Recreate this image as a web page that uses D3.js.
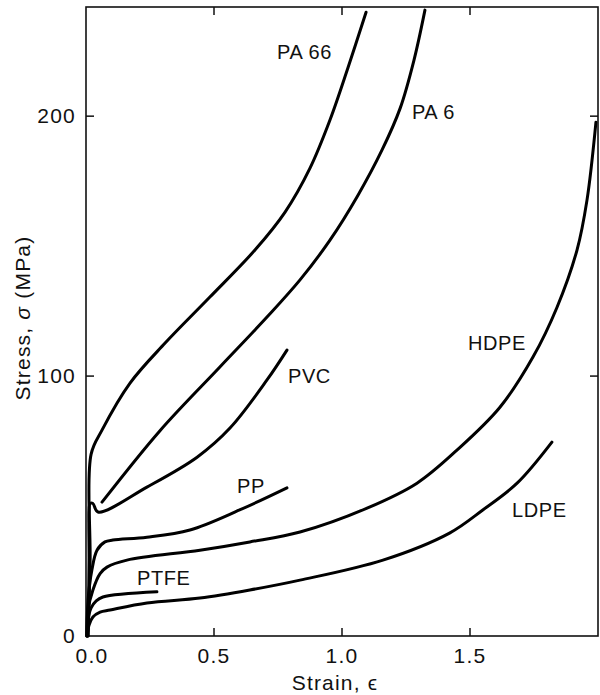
<!DOCTYPE html>
<html>
<head>
<meta charset="utf-8">
<script src="https://cdn.jsdelivr.net/npm/d3@7"></script>
<style>
  body { margin: 0; background: #fff; }
  text { font-family: "Liberation Sans", Arial, sans-serif; fill: #111; }
</style>
</head>
<body>
<div id="chart"></div>
<script>
// stress-strain curves: [strain, stress MPa]
const pa66 = [[0.008,0],[0.016,29],[0.02,70],[0.0625,79.2],[0.172,97.3],[0.309,112.7],[0.484,130.4],[0.66,148.5],[0.777,163],[0.875,180],[0.953,198.5],[1.023,218.5],[1.094,240]];
const pa6  = [[0.0625,51.5],[0.289,79],[0.523,103.5],[0.707,122.7],[0.836,137],[0.953,152.3],[1.0625,169.6],[1.156,186.9],[1.227,203],[1.281,221.5],[1.324,240.8]];
const pvc  = [[0.008,0],[0.012,29],[0.012,48.5],[0.016,51],[0.027,51],[0.047,47.7],[0.238,57.3],[0.434,68.8],[0.5625,80],[0.707,98.5],[0.785,110]];
const pp   = [[0.004,0],[0.008,13.8],[0.023,25.4],[0.043,33],[0.074,36.2],[0.105,36.9],[0.238,38],[0.406,40.8],[0.60,48.5],[0.785,57]];
const hdpe = [[0.004,0],[0.008,10],[0.027,17.7],[0.055,24],[0.082,26.5],[0.16,29.2],[0.445,33],[0.64,36.2],[0.836,40],[1.098,49.2],[1.293,58.8],[1.449,71.5],[1.617,88],[1.746,107.3],[1.84,126.5],[1.918,148.5],[1.957,167.7],[1.992,197.7]];
const ldpe = [[0.004,0],[0.012,4.2],[0.027,7.3],[0.055,9.2],[0.094,10],[0.238,12.7],[0.445,14.6],[0.64,17.7],[0.836,21.5],[1.16,29.2],[1.42,39.6],[1.55,48.5],[1.684,58.8],[1.82,74.6]];
const ptfe = [[0.004,0],[0.008,6.2],[0.02,10.8],[0.04,13.5],[0.066,15],[0.277,17]];

const curveNames = ["PA 66","PA 6","PVC","PP","HDPE","LDPE","PTFE"];
const curveData  = [pa66, pa6, pvc, pp, hdpe, ldpe, ptfe];
// label anchor (left, baseline) in data units
const labelPos = [[0.746,222],[1.273,199],[0.789,97.3],[0.59,55],[1.492,110],[1.664,45.8],[0.199,19.6]];

const xTicks = [0, 0.5, 1.0, 1.5];
const yTicks = [0, 100, 200];

function drawChart() {
  var width = 600, height = 695;
  var mLeft = 86, mRight = 598, mTop = 7, mBottom = 636;

  var svg = d3.select("#chart").append("svg")
    .attr("width", width).attr("height", height);

  var x = d3.scaleLinear().domain([0, 2.0]).range([mLeft, mRight]);
  var y = d3.scaleLinear().domain([0, 242]).range([mBottom, mTop]);

  // frame
  svg.append("rect")
    .attr("x", mLeft).attr("y", mTop)
    .attr("width", mRight - mLeft).attr("height", mBottom - mTop)
    .attr("fill", "none").attr("stroke", "#111").attr("stroke-width", 1.6);

  // inward ticks on all four sides (no tick at zero)
  var tickLen = 8;
  var xt = xTicks.filter(d => d > 0), yt = yTicks.filter(d => d > 0);
  var ticks = svg.append("g").attr("stroke", "#111").attr("stroke-width", 1.5);
  xt.forEach(function(d) {
    ticks.append("line").attr("x1", x(d)).attr("x2", x(d)).attr("y1", mBottom).attr("y2", mBottom - tickLen);
    ticks.append("line").attr("x1", x(d)).attr("x2", x(d)).attr("y1", mTop).attr("y2", mTop + tickLen);
  });
  yt.forEach(function(d) {
    ticks.append("line").attr("x1", mLeft).attr("x2", mLeft + tickLen).attr("y1", y(d)).attr("y2", y(d));
    ticks.append("line").attr("x1", mRight).attr("x2", mRight - tickLen).attr("y1", y(d)).attr("y2", y(d));
  });

  // tick labels
  svg.append("g").selectAll("text").data(xTicks).enter().append("text")
    .attr("x", d => x(d) + (d === 0 ? 6 : 0))
    .attr("y", 663)
    .attr("text-anchor", "middle")
    .attr("font-size", 21)
    .attr("letter-spacing", 1.2)
    .text(d => d3.format(".1f")(d));

  svg.append("g").selectAll("text").data(yTicks).enter().append("text")
    .attr("x", 76)
    .attr("y", d => y(d) + 7)
    .attr("text-anchor", "end")
    .attr("font-size", 21)
    .attr("letter-spacing", 1.2)
    .text(d => d);

  // axis titles
  svg.append("text")
    .attr("x", 335).attr("y", 690)
    .attr("text-anchor", "middle").attr("font-size", 21)
    .attr("letter-spacing", 1.2)
    .text("Strain, \u03f5");

  svg.append("text")
    .attr("transform", "translate(30,318) rotate(-90)")
    .attr("text-anchor", "middle").attr("font-size", 21)
    .attr("letter-spacing", 1.2)
    .html("Stress, <tspan font-style='italic'>\u03c3</tspan> (MPa)");

  // curves
  var line = d3.line()
    .x(d => x(d[0]))
    .y(d => y(d[1]))
    .curve(d3.curveCatmullRom.alpha(0.5));

  svg.append("g").selectAll("path").data(curveData).enter().append("path")
    .attr("d", line)
    .attr("fill", "none")
    .attr("stroke", "#000")
    .attr("stroke-width", 3)
    .attr("stroke-linecap", "round")
    .attr("stroke-linejoin", "round");

  // curve labels
  svg.append("g").selectAll("text").data(curveNames).enter().append("text")
    .attr("x", (d, i) => x(labelPos[i][0]))
    .attr("y", (d, i) => y(labelPos[i][1]))
    .attr("font-size", 20)
    .attr("letter-spacing", 0.6)
    .text(d => d);
}
drawChart();
</script>
</body>
</html>
